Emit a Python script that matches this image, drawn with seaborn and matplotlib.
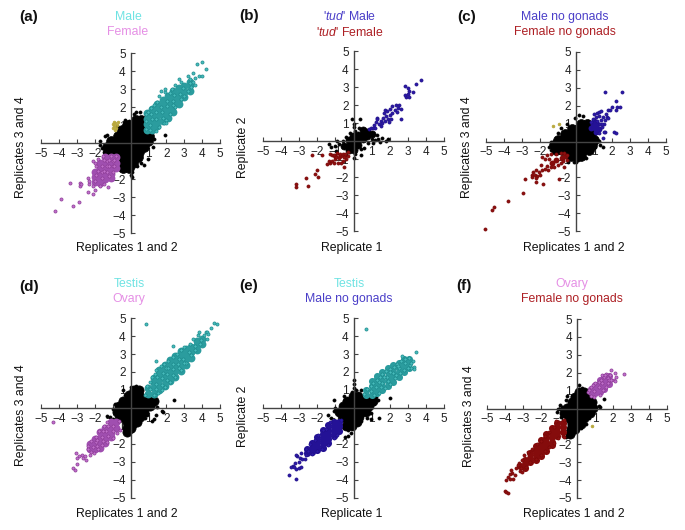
import matplotlib
matplotlib.use('Agg')
import seaborn as sns
import matplotlib.pyplot as plt

# points: *_core fills the solid part of a cloud, *_pts are single dots
# *_cols are the same as *_core, written column by column as (x, [y, y, ...])
a_black_core = [(0.3,1.3),(0.6,1.3),(-0.2,1.0),(0.1,1.0),(0.4,1.0),(0.7,1.0),(-0.5,0.7),(-0.2,0.7),(0.1,0.7),(0.4,0.7),(0.7,0.7),(0.95,0.7),
                (-0.7,0.4),(-0.4,0.4),(-0.1,0.4),(0.2,0.4),(0.5,0.4),(0.8,0.4),(1.05,0.4),(-1.1,0.1),(-0.8,0.1),(-0.5,0.1),(-0.2,0.1),(0.1,0.1),(0.4,0.1),(0.7,0.1),(1.0,0.1),
                (-1.3,-0.2),(-1.0,-0.2),(-0.7,-0.2),(-0.4,-0.2),(-0.1,-0.2),(0.2,-0.2),(0.5,-0.2),(0.75,-0.2),(-1.25,-0.5),(-0.95,-0.5),(-0.65,-0.5),(-0.35,-0.5),(-0.05,-0.5),(0.25,-0.5),(0.5,-0.5),
                (-0.4,-0.8),(-0.1,-0.8),(0.2,-0.8),(0.4,-0.8),(-0.4,-1.1),(-0.1,-1.1),(0.15,-1.1),(-0.4,-1.4),(-0.1,-1.4)]
a_black_pts = [(-1.4,0.4),(-1.7,0.1),(-1.3,0.45),(-0.75,0.95),(-0.3,1.3),(-0.1,1.2),(0.3,1.75),(0.55,1.75),(0.2,1.6),(1.0,-0.9),(1.95,0.45),(1.25,-0.2),(0.75,-1.2),(0.1,-1.6),(0.1,-1.9),(0.05,-1.75),
               (1.3,0.2),(-1.6,-0.3),(-1.7,-0.1),(-1.2,0.2),(-0.6,0.8),(0.5,-0.9),(0.6,-1.1),(0.35,-1.3),(-0.9,-0.6),(-1.5,-0.5)]
a_pos_cols = [(0.9,[0.75,1.05,1.35,1.65]),(1.2,[0.7,1.0,1.3,1.6,1.9]),(1.5,[0.95,1.25,1.55,1.85,2.15]),(1.8,[1.2,1.5,1.8,2.1,2.4]),(2.1,[1.4,1.7,2.0,2.3,2.6]),(2.4,[1.75,2.05,2.35,2.65,2.9]),(2.7,[2.15,2.45,2.75,3.05]),(3.0,[2.55,2.85,3.15]),(3.3,[2.9,3.2,3.4])]
a_pos_pts = [(0.85,0.8),(0.85,1.2),(0.85,1.6),(1.0,1.75),(1.15,1.95),(1.3,2.1),(1.5,2.3),(1.6,2.6),(1.7,2.9),(1.95,2.85),(1.9,3.0),(3.3,3.35),(3.4,3.1),(3.5,3.4),(3.6,3.6),(3.5,3.9),(3.2,3.7),(3.3,3.55),
             (2.7,3.55),(2.8,3.4),(2.5,3.2),(2.3,3.0),(2.2,2.8),(3.7,4.4),(4.0,4.5),(4.2,4.1),(3.8,3.7),(4.0,3.7),(3.6,3.2),(2.0,1.3),(2.2,1.6),(1.85,1.1),(1.6,0.9),(1.4,0.65),(2.5,2.0),(2.8,2.45),(3.0,2.6),(3.2,2.9),(2.0,1.1),
             (1.1,1.0),(1.2,1.35),(1.45,1.35),(1.45,1.7),(1.75,1.7),(1.7,2.0),(2.05,2.05),(2.05,2.35),(2.35,2.35),(2.45,2.65),(2.75,2.7),(1.1,0.75),(1.15,1.6),(1.8,1.4),(2.35,2.1),(2.95,3.05)]
a_neg_cols = [(-0.8,[-0.8,-1.1,-1.4]),(-1.1,[-0.8,-1.1,-1.4,-1.7,-1.95]),(-1.4,[-0.8,-1.1,-1.4,-1.7,-2.0]),(-1.7,[-1.1,-1.4,-1.7,-2.0,-2.2]),(-2.0,[-1.6,-1.9,-2.15])]
a_neg_pts = [(-3.4,-2.2),(-2.8,-2.2),(-2.8,-2.4),(-2.75,-2.3),(-4.2,-3.8),(-3.9,-3.1),(-3.2,-3.5),(-2.85,-3.3),(-2.35,-2.7),(-2.1,-2.85),(-2.0,-2.6),(-2.3,-2.3),(-2.1,-2.4),(-1.7,-2.4),(-1.5,-2.3),(-1.25,-2.45),(-2.0,-2.1),(-2.4,-1.95),(-2.3,-2.1),
             (-1.95,-1.3),(-2.0,-1.1),(-1.8,-0.9),(-2.1,-1.0),(-1.0,-1.0),(-1.3,-1.0),(-1.0,-1.3),(-1.3,-1.3),(-1.6,-1.3),(-0.8,-0.7),(-1.1,-0.7),(-1.55,-0.7),(-1.3,-1.6),(-1.6,-1.6),(-1.0,-1.6),(-0.9,-0.95),(-1.2,-0.95),(-1.5,-0.95),(-0.9,-1.25),(-1.2,-1.25),(-1.5,-1.55),(-1.8,-1.55),(-1.2,-1.85),(-1.6,-1.95),(-1.9,-1.8)]
a_other = [(-0.9,0.95),(-0.85,1.1),(-0.95,1.05),(-0.8,0.85),(-0.75,1.0),(-0.7,1.15),(-0.95,0.85),(-0.85,0.75),(-0.9,1.15)]

b_black_core = [(-0.5,-0.3),(-0.25,-0.25),(-0.25,-0.5),(0,-0.5),(0,-0.2),(0,0.05),(0.25,-0.2),(0.25,0.1),(0.25,0.35),(0.5,0.1),(0.5,0.35),(0.75,0.3),(0.75,0.5),(0.5,0.6),(-0.05,0.3),(-0.25,0.05),(1.0,0.4)]
b_black_pts = [(-0.1,1.2),(0.35,1.2),(0,0.95),(0.05,0.8),(-1.35,-0.15),(-1.25,-0.35),(-1.0,-0.25),(-0.95,-0.55),(-0.8,-0.15),(-0.6,0.0),(-0.4,0.25),(-0.2,0.45),(0.3,0.7),(0.1,0.55),(1.0,0.1),(1.2,0.05),(1.35,0.1),(1.45,-0.05),
               (1.9,0.1),(1.8,0.0),(1.1,-0.1),(0.8,-0.1),(0.4,-0.45),(0.1,-0.7),(0,-0.95),(0.4,-0.8),(-0.4,-0.75),(0.6,-0.4),(1.6,0.15),(1.3,0.35),(-0.9,0.0)]
b_pos_core = []
b_pos_pts = [(0.85,0.65),(0.95,0.75),(1.05,0.7),(1.15,0.9),(1.2,0.75),(1.25,1.05),(1.3,1.3),(1.3,1.2),(1.4,0.95),(1.5,0.85),(1.5,1.1),(1.6,1.0),(1.65,1.3),(1.75,1.1),(1.8,1.4),(1.7,1.55),(1.75,1.75),(1.85,1.65),(1.9,1.25),(2.0,1.45),(2.05,1.2),
             (2.1,1.55),(2.0,1.8),(2.15,1.95),(2.3,1.75),(2.35,2.0),(2.5,2.0),(2.45,1.85),(2.4,1.6),(2.65,1.25),(2.6,1.8),(1.95,1.05),(2.9,2.45),(2.85,2.55),(3.0,2.6),(3.05,2.45),(3.05,2.8),(2.85,3.05),(3.0,2.95),(3.3,2.75),(3.45,3.15),(3.75,3.4)]
b_neg_core = [(-1.0,-0.85),(-0.75,-0.85),(-0.55,-0.85)]
b_neg_pts = [(-1.3,-0.7),(-1.2,-0.8),(-1.05,-0.75),(-0.9,-0.65),(-0.75,-0.7),(-0.6,-0.7),(-0.45,-0.7),(-1.3,-1.2),(-1.45,-1.25),(-1.35,-1.1),(-1.2,-1.1),(-1.1,-1.2),(-1.0,-1.0),(-0.95,-0.9),(-0.8,-0.95),(-0.7,-1.2),(-0.6,-1.1),(-0.5,-0.9),(-0.85,-1.2),(-0.55,-1.45),(-0.4,-1.0),
             (-2.3,-0.8),(-1.75,-0.8),(-2.0,-1.6),(-2.1,-1.85),(-1.95,-2.0),(-2.65,-2.05),(-3.2,-2.4),(-3.15,-2.55),(-2.5,-2.5),(-0.3,-0.6),(-0.3,-0.85)]

c_black_core = [(0.3,1.0),(0.6,1.0),(-0.2,0.7),(0.1,0.7),(0.4,0.7),(0.7,0.7),(-0.6,0.4),(-0.3,0.4),(0,0.4),(0.3,0.4),(0.6,0.4),(0.85,0.4),(-1.0,0.1),(-0.7,0.1),(-0.4,0.1),(-0.1,0.1),(0.2,0.1),(0.5,0.1),(0.8,0.1),(1.0,0.1),
                (-1.2,-0.2),(-0.9,-0.2),(-0.6,-0.2),(-0.3,-0.2),(0,-0.2),(0.3,-0.2),(0.6,-0.2),(0.9,-0.2),(-1.1,-0.5),(-0.8,-0.5),(-0.5,-0.5),(-0.2,-0.5),(0.1,-0.5),(0.4,-0.5),(0.7,-0.5),(-0.3,-0.8),(0,-0.8),(0.3,-0.8)]
c_black_pts = [(0.15,1.5),(0.4,1.4),(-0.05,1.3),(-0.5,1.0),(-0.85,0.75),(-1.0,0.5),(-1.4,0.0),(-1.5,-0.3),(-1.4,-0.5),(-0.1,-1.15),(0.1,-1.05),(0.9,-0.45),(1.35,-0.2),(1.5,-0.3),(1.05,-0.3),(1.25,0.05),(0.55,-0.9),(-0.45,-1.15),(0,-1.15),(0.8,0.9),(0.65,1.15)]
c_pos_core = [(0.85,0.75),(1.05,0.75),(1.1,0.55),(1.25,0.7),(0.95,0.95),(1.15,0.95),(1.0,1.15)]
c_pos_pts = [(1.0,1.55),(1.15,1.6),(1.3,1.65),(1.4,1.7),(1.3,1.4),(1.5,1.35),(1.6,1.2),(1.7,1.35),(1.65,1.55),(1.75,1.75),(1.8,1.3),(1.4,1.2),(1.55,1.0),(1.35,0.95),(1.45,0.8),(1.3,0.45),(1.6,0.55),(1.5,0.2),(1.55,0.55),(2.1,0.55),(2.2,0.45),
             (1.9,1.75),(2.0,1.9),(2.2,1.75),(2.3,1.95),(2.45,1.9),(2.2,2.25),(1.6,2.75),(2.55,2.75),(1.45,1.0),(0.95,1.25),(1.1,1.35),(0.85,1.1),(1.15,1.15)]
c_neg_core = [(-0.8,-0.9),(-1.1,-1.05),(-1.35,-1.2),(-0.6,-0.8)]
c_neg_pts = [(-1.9,-0.85),(-1.6,-0.75),(-1.4,-0.7),(-1.1,-0.7),(-0.85,-0.65),(-0.65,-0.65),(-0.5,-0.75),(-1.95,-1.3),(-1.7,-1.0),(-1.5,-1.0),(-1.6,-1.35),(-1.4,-1.45),(-1.2,-1.4),(-1.0,-1.3),(-0.85,-1.2),(-0.7,-1.1),(-0.5,-1.05),(-0.65,-1.45),(-1.55,-1.6),(-1.9,-1.6),
             (-2.05,-1.7),(-2.2,-1.6),(-2.4,-1.7),(-2.45,-1.85),(-2.3,-1.85),(-2.15,-1.9),(-2.0,-1.85),(-1.7,-1.55),(-2.2,-2.05),(-2.45,-2.0),(-2.85,-2.1),(-2.2,-2.25),(-1.85,-2.35),(-0.95,-2.1),(-2.95,-2.85),(-3.8,-3.35),(-4.55,-3.65),(-4.65,-3.8),(-5.05,-4.9)]
c_other = [(-1.3,0.85),(-0.95,0.95)]

d_black_core = [(0.2,1.0),(0.5,1.0),(-0.1,0.7),(0.2,0.7),(0.5,0.7),(-0.4,0.4),(-0.1,0.4),(0.2,0.4),(0.5,0.4),(0.8,0.4),(1.05,0.4),(1.3,0.4),(-0.65,0.1),(-0.35,0.1),(-0.05,0.1),(0.25,0.1),(0.55,0.1),(0.85,0.1),(1.1,0.1),
                (-0.75,-0.2),(-0.45,-0.2),(-0.15,-0.2),(0.15,-0.2),(0.45,-0.2),(0.75,-0.2),(-0.6,-0.5),(-0.3,-0.5),(0,-0.5),(0.3,-0.5),(0.55,-0.5),(-0.2,-0.8),(0.1,-0.8),(0.35,-0.8),(-0.2,-1.1),(0.05,-1.1),(-0.2,-1.35)]
d_black_pts = [(-0.85,0.2),(-1.0,-0.05),(-1.3,-0.45),(-1.15,-0.5),(-0.95,-0.6),(-0.4,1.0),(0.05,1.15),(0.3,1.2),(0.55,1.1),(-0.3,0.75),(1.3,0.2),(1.5,0.05),(1.45,-0.4),(1.75,-0.15),(1.3,-0.6),(1.2,-0.7),(0.8,-0.55),(0.5,-0.85),(0.25,-1.0),(0.1,-1.25),(2.45,0.45),(1.8,-0.2),(1.15,0.0),(0.9,-0.4)]
d_pos_cols = [(1.0,[0.8,1.1]),(1.3,[0.8,1.1,1.4,1.65]),(1.6,[1.0,1.3,1.6,1.9,2.1]),(1.9,[1.25,1.55,1.85,2.15,2.4]),(2.2,[1.5,1.8,2.1,2.4,2.65]),(2.5,[1.75,2.05,2.35,2.65,2.9]),(2.8,[2.05,2.35,2.65,2.95,3.15]),(3.1,[2.4,2.7,3.0,3.3]),(3.4,[2.8,3.1,3.4]),(3.7,[3.2,3.5,3.75]),(4.0,[3.55,3.85])]
d_pos_pts = [(0.8,0.75),(0.9,1.25),(1.1,1.45),(1.2,1.75),(1.35,1.9),(1.45,2.1),(1.7,2.35),(1.85,2.45),(2.1,2.6),(2.35,2.85),(2.6,3.0),(2.8,3.2),(3.0,3.4),(3.3,3.55),(3.5,3.85),(3.75,4.05),(3.85,4.25),(4.1,4.05),(4.2,4.2),(4.3,4.25),(4.35,4.1),(4.25,3.85),(4.5,4.45),(4.65,4.7),(4.85,4.65),
             (3.9,3.55),(3.6,3.25),(3.4,2.95),(3.1,2.5),(2.8,2.1),(2.5,1.75),(2.2,1.45),(1.9,1.15),(1.55,0.85),(1.35,0.7),(0.85,4.65),(2.4,3.45),(1.4,2.6),(2.0,2.2),(1.3,0.75),(1.75,1.0),
             (1.1,1.05),(1.45,1.35),(1.75,1.65),(2.05,1.9),(2.35,2.15),(2.65,2.45),(2.95,2.75),(3.25,3.1),(3.6,3.45),(3.95,3.8),(1.5,1.7),(1.8,1.95),(2.1,2.2),(2.4,2.45),(2.7,2.75),(1.4,1.05),(1.75,1.3),(2.05,1.55),(2.4,1.85),(2.7,2.2),(3.0,2.5)]
d_neg_cols = [(-0.8,[-0.8,-1.1]),(-1.1,[-0.8,-1.1,-1.4,-1.6]),(-1.4,[-1.1,-1.4,-1.7,-1.95]),(-1.7,[-1.35,-1.65,-1.95,-2.2]),(-2.0,[-1.7,-2.0,-2.3]),(-2.25,[-2.0,-2.3])]
d_neg_pts = [(-0.65,-0.7),(-1.3,-0.75),(-1.5,-1.0),(-1.75,-1.3),(-1.95,-1.6),(-2.2,-1.85),(-2.35,-2.1),(-2.4,-2.3),(-2.2,-2.45),(-2.05,-2.5),(-1.8,-2.3),(-1.6,-2.05),(-1.3,-1.9),(-1.0,-1.65),(-0.75,-1.4),(-0.6,-1.2),(-2.7,-2.6),(-2.65,-2.8),(-2.85,-2.65),(-3.05,-2.5),(-3.0,-2.75),(-2.55,-2.65),(-2.5,-2.9),(-3.0,-3.1),(-3.2,-3.35),(-3.1,-3.45),(-4.35,-0.75),(-2.25,-2.6),
             (-0.95,-1.0),(-1.25,-1.0),(-0.95,-1.3),(-1.35,-1.3),(-1.6,-1.6),(-1.9,-1.9),(-1.25,-1.55),(-1.55,-1.85),(-1.85,-2.1),(-1.55,-1.3),(-1.85,-1.8),(-2.1,-2.15)]

e_black_core = [(-0.05,0.65),(0.25,0.65),(-0.35,0.4),(-0.05,0.4),(0.25,0.4),(0.55,0.4),(0.85,0.4),(1.1,0.4),(-0.6,0.1),(-0.3,0.1),(0,0.1),(0.3,0.1),(0.6,0.1),(0.85,0.1),(-0.8,-0.2),(-0.5,-0.2),(-0.2,-0.2),(0.1,-0.2),(0.4,-0.2),(0.7,-0.2),(-0.6,-0.5),(-0.3,-0.5),(0,-0.5),(0.3,-0.5),(-0.3,-0.8),(0,-0.8),(0.2,-0.8),(-0.4,-1.0),(-0.1,-1.0)]
e_black_pts = [(-1.0,0),(-1.1,-0.15),(-1.05,0.45),(-0.55,0.65),(-0.5,0.4),(0,1.55),(0.05,1.35),(0.0,1.1),(-0.1,0.9),(0.15,1.0),(0.4,1.0),(1.25,0.6),(1.35,0.45),(2.0,0.55),(1.15,0.2),(0.95,-0.3),(0.85,-0.1),(0.95,-0.6),(1.4,-0.55),(0.75,-0.55),(0.4,-0.7),(0.1,-0.95),(-0.15,-1.4),(-0.45,-1.6),(-0.3,-1.55),(-0.3,-1.2),(-1.4,-0.4),(-1.25,-0.55),(-1.0,-0.7)]
e_pos_cols = [(0.7,[0.75,1.0]),(1.0,[0.75,1.0,1.25,1.5]),(1.3,[0.85,1.1,1.35,1.6,1.8]),(1.6,[1.0,1.25,1.5,1.75,2.0]),(1.9,[1.25,1.5,1.75,2.0,2.2]),(2.2,[1.45,1.7,1.95,2.2,2.4]),(2.5,[1.75,2.0,2.25,2.5]),(2.8,[2.0,2.25,2.5,2.7]),(3.05,[2.25,2.5,2.7])]
e_pos_pts = [(0.6,0.8),(0.75,1.05),(0.95,1.25),(1.1,1.4),(1.3,1.55),(1.45,1.75),(1.6,1.9),(1.8,2.05),(2.0,2.15),(2.25,2.3),(2.4,2.45),(2.6,2.6),(2.7,2.9),(2.85,2.75),(3.05,2.8),(3.45,3.1),(3.3,2.6),(3.35,2.3),(3.35,2.15),(3.15,2.2),(3.0,2.2),(2.8,2.1),(2.55,1.95),(2.3,1.65),(2.0,1.35),(1.75,1.1),(1.4,0.85),(1.15,0.7),(0.7,4.4),(3.1,2.4),(3.2,2.5),
             (0.95,0.95),(1.25,1.15),(1.55,1.4),(1.85,1.7),(2.2,1.95),(2.5,2.2),(2.85,2.5),(1.4,1.45),(1.7,1.75),(2.0,2.0),(2.45,2.35),(1.5,1.15),(1.9,1.5),(2.35,1.85)]
e_neg_cols = [(-0.8,[-0.75,-1.0,-1.25]),(-1.1,[-0.8,-1.05,-1.3,-1.55]),(-1.4,[-0.95,-1.2,-1.45,-1.7,-1.95]),(-1.7,[-1.2,-1.45,-1.7,-1.95,-2.2]),(-2.0,[-1.6,-1.85,-2.1,-2.35]),(-2.3,[-1.95,-2.2,-2.45]),(-2.55,[-2.25,-2.5])]
e_neg_pts = [(-0.7,-0.65),(-1.3,-0.8),(-1.5,-1.15),(-1.7,-1.2),(-1.95,-1.5),(-2.15,-1.75),(-2.4,-2.0),(-2.6,-2.25),(-2.5,-2.4),(-2.3,-2.55),(-2.0,-2.4),(-1.75,-2.25),(-1.4,-2.05),(-1.1,-1.65),(-0.9,-1.5),(-2.65,-2.6),(-2.9,-2.5),(-3.1,-2.65),(-3.2,-2.6),(-2.95,-2.75),(-2.85,-2.85),(-3.0,-3.0),(-2.7,-2.85),(-3.25,-3.05),(-3.35,-3.2),(-3.2,-3.4),(-3.0,-3.35),(-2.9,-3.3),(-3.45,-3.3),(-3.55,-3.7),(-3.2,-3.95),(-3.3,-3.3)]

f_black_core = [(0.1,0.9),(0.4,0.9),(-0.1,0.65),(0.2,0.65),(0.5,0.65),(-0.3,0.35),(0,0.35),(0.3,0.35),(0.6,0.35),(0.85,0.35),(-0.55,0.05),(-0.25,0.05),(0.05,0.05),(0.35,0.05),(0.65,0.05),(0.9,0.05),(-0.75,-0.25),(-0.45,-0.25),(-0.15,-0.25),(0.15,-0.25),(0.45,-0.25),(0.7,-0.25),
                (-0.45,-0.55),(-0.15,-0.55),(0.15,-0.55),(0.4,-0.55),(-0.3,-0.85),(0,-0.85),(0.2,-0.85),(-0.35,-1.15),(-0.1,-1.15),(-0.4,-1.4)]
f_black_pts = [(-0.95,-0.05),(-1.1,-0.2),(-0.95,0.2),(-1.05,0.0),(-0.6,0.45),(0.1,1.3),(0.3,1.15),(0.4,1.0),(1.5,0.55),(1.2,0.15),(1.3,0.1),(0.95,-0.05),(0.9,-0.25),(0.65,-0.55),(0.5,-0.85),(0.2,-1.1),(-0.45,-1.55),(-0.6,-1.6),(-0.2,-1.45),(-0.9,-0.45),(-0.85,0.1),(-0.55,0.7),(-0.3,0.7)]
f_pos_cols = [(0.75,[0.9,1.1]),(1.0,[0.85,1.1,1.3]),(1.25,[0.9,1.15,1.4,1.6]),(1.5,[1.1,1.35,1.6,1.75]),(1.75,[1.35,1.6,1.8])]
f_pos_pts = [(0.6,0.9),(0.65,1.05),(0.75,1.2),(0.9,1.3),(1.0,1.45),(1.2,1.5),(1.35,1.6),(1.5,1.75),(1.6,1.9),(1.7,1.7),(1.85,1.85),(1.9,2.15),(2.1,2.0),(1.8,1.6),(2.05,1.6),(2.1,1.55),(1.9,1.6),(1.7,1.45),(1.6,1.2),(1.45,1.05),(1.25,0.75),(0.95,0.65),(0.8,0.7),(2.6,1.95),(2.15,1.75),(1.4,1.85),(1.55,1.85),(0.95,1.0),(1.2,1.2),(1.4,1.4)]
f_neg_cols = [(-0.8,[-0.8,-1.05,-1.3]),(-1.1,[-0.8,-1.05,-1.3,-1.55]),(-1.4,[-1.1,-1.35,-1.6,-1.85,-2.05]),(-1.7,[-1.4,-1.65,-1.9,-2.15,-2.35]),(-2.0,[-1.75,-2.0,-2.25,-2.5,-2.65]),(-2.3,[-2.1,-2.35,-2.6,-2.85]),(-2.6,[-2.5,-2.75,-3.0]),(-2.9,[-2.85,-3.1,-3.3]),(-3.15,[-3.2])]
f_neg_pts = [(-0.7,-0.65),(-1.15,-0.7),(-1.3,-1.05),(-1.55,-1.3),(-1.8,-1.55),(-2.0,-1.8),(-2.25,-2.0),(-2.5,-2.25),(-2.7,-2.45),(-2.95,-2.6),(-3.05,-2.9),(-3.2,-3.05),(-3.3,-3.15),(-3.1,-3.3),(-2.85,-3.25),(-3.4,-3.3),(-3.6,-3.6),(-3.75,-3.65),(-3.85,-3.85),(-3.55,-3.95),(-3.75,-3.95),(-3.95,-4.0),(-3.45,-3.7),(-3.65,-3.45),(-3.15,-3.5),(-2.6,-3.0),(-2.3,-2.8),(-2.0,-2.6),(-1.8,-2.35),(-1.55,-2.15),(-1.3,-1.9),(-1.05,-1.65),(-0.8,-1.55),(-0.7,-1.6),(-4.0,-4.6),(-3.95,-4.65),(-3.85,-4.7),(-3.05,-3.55)]
f_other = [(0.85,-0.95)]

tick_values = [-5, -4, -3, -2, -1, 1, 2, 3, 4, 5]
panel_tags = ['(a)', '(b)', '(c)', '(d)', '(e)', '(f)']
x_names = ['Replicates 1 and 2', 'Replicate 1', 'Replicates 1 and 2', 'Replicates 1 and 2', 'Replicate 1', 'Replicates 1 and 2']
y_names = ['Replicates 3 and 4', 'Replicate 2', 'Replicates 3 and 4', 'Replicates 3 and 4', 'Replicate 2', 'Replicates 3 and 4']
top_names = ['Male', r"'$\mathit{tud}$' Male", 'Male no gonads', 'Testis', 'Testis', 'Ovary']
bottom_names = ['Female', r"'$\mathit{tud}$' Female", 'Female no gonads', 'Ovary', 'Male no gonads', 'Female no gonads']

# face, edge, title colour, solid colour under the dots
TEAL = ('#48bcbc', '#1c8a8c', '#6fe3e3', '#2b9c9e')
PINK = ('#c070cc', '#8c3a94', '#e58fe5', '#a04fb0')
BLUE = ('#2c1aa8', '#201088', '#4a3ec8', '#241296')
RED = ('#8e1010', '#7a0808', '#ad1f24', '#850c0c')
OLIVE = '#b8a83c'


def cols(columns):
    return [(x, y) for x, ys in columns for y in ys]


W, H = 685, 530
# left, right, top, bottom of the axes in pixels
boxes = [(41, 220, 53, 233), (263, 444, 51, 231), (486, 666, 52, 231), (41, 220, 318, 498), (263, 444, 318, 498), (487, 667, 319, 498)]
# tag x, tag y, title x, title y1, title y2, ylabel x, ylabel y, xlabel x, xlabel y
spots = [(29, 17, 128, 17, 32, 21, 147, 127, 248), (249, 16, 350, 17, 32, 243, 147, 352, 248), (467, 17, 565, 17, 32, 467, 147, 574, 248),
         (29, 287, 129, 284, 299, 21, 415, 127, 514), (249, 286, 349, 284, 299, 243, 416, 352, 514), (464, 286, 572, 284, 299, 469, 416, 574, 514)]
series = [
    (a_black_core, a_black_pts, cols(a_pos_cols), a_pos_pts, TEAL, cols(a_neg_cols), a_neg_pts, PINK, a_other),
    (b_black_core, b_black_pts, b_pos_core, b_pos_pts, BLUE, b_neg_core, b_neg_pts, RED, []),
    (c_black_core, c_black_pts, c_pos_core, c_pos_pts, BLUE, c_neg_core, c_neg_pts, RED, c_other),
    (d_black_core, d_black_pts, cols(d_pos_cols), d_pos_pts, TEAL, cols(d_neg_cols), d_neg_pts, PINK, []),
    (e_black_core, e_black_pts, cols(e_pos_cols), e_pos_pts, TEAL, cols(e_neg_cols), e_neg_pts, BLUE, []),
    (f_black_core, f_black_pts, cols(f_pos_cols), f_pos_pts, PINK, cols(f_neg_cols), f_neg_pts, RED, f_other),
]
black_sizes = [50, 26, 50, 44, 42, 44]
cloud_sizes = [32, 12, 18, 32, 26, 26]

sns.set_theme(style='white')
plt.rcParams['font.family'] = ['Liberation Sans', 'DejaVu Sans']
plt.rcParams['mathtext.fontset'] = 'custom'
plt.rcParams['mathtext.it'] = 'Liberation Sans:italic'
plt.rcParams['mathtext.rm'] = 'Liberation Sans'

fig = plt.figure(figsize=(W / 100, H / 100), dpi=100)


def dots(ax, pts, color, edge, size, order, width=0.5):
    if not pts:
        return
    sns.scatterplot(x=[p[0] for p in pts], y=[p[1] for p in pts], ax=ax, color=color, edgecolor=edge,
                    s=size, linewidth=width, legend=False, zorder=order, clip_on=False)


def put(x, y, s, **kw):
    fig.text(x / W, 1 - y / H, s, ha='center', va='center', **kw)


for i, box in enumerate(boxes):
    left, right, top, bottom = box
    ax = fig.add_axes([left / W, 1 - bottom / H, (right - left) / W, (bottom - top) / H])
    ax.patch.set_alpha(0)
    black_core, black_pts, pos_core, pos_pts, pos_col, neg_core, neg_pts, neg_col, other = series[i]

    # solid patches first, small dots on top give the speckle
    dots(ax, black_core, 'black', 'black', black_sizes[i], 2)
    dots(ax, black_pts, 'black', 'black', 5, 2)
    dots(ax, pos_core, pos_col[3], pos_col[3], cloud_sizes[i], 3, 0)
    dots(ax, neg_core, neg_col[3], neg_col[3], cloud_sizes[i], 3, 0)
    dots(ax, pos_pts, pos_col[0], pos_col[1], 5, 4)
    dots(ax, neg_pts, neg_col[0], neg_col[1], 5, 4)
    dots(ax, other, OLIVE, OLIVE, 4, 4)

    ax.set_xlim(-5, 5)
    ax.set_ylim(-5, 5)
    for side in ['top', 'right']:
        ax.spines[side].set_visible(False)
    for side in ['left', 'bottom']:
        ax.spines[side].set_position('zero')
        ax.spines[side].set_color('#444444')
        ax.spines[side].set_linewidth(1.0)
    ax.set_axisbelow(True)
    ax.set_xticks(tick_values)
    ax.set_yticks(tick_values)
    ax.set_xticklabels([str(t).replace('-', '\u2212') for t in tick_values])
    ax.set_yticklabels([str(t).replace('-', '\u2212') for t in tick_values])
    ax.tick_params(axis='both', direction='in', length=3, width=0.8, color='#444444', labelsize=8.5, labelcolor='#222222', pad=3.5)
    ax.tick_params(axis='x', bottom=True)
    ax.tick_params(axis='y', left=True)
    ax.set_xlabel('')
    ax.set_ylabel('')

    tx, ty, cx, y1, y2, ylx, yly, xlx, xly = spots[i]
    put(tx, ty, panel_tags[i], fontsize=11, fontweight='bold', color='#111111')
    put(cx, y1, top_names[i], fontsize=8.8, color=pos_col[2])
    put(cx, y2, bottom_names[i], fontsize=8.8, color=neg_col[2])
    put(ylx, yly, y_names[i], fontsize=8.8, rotation=90, color='#111111')
    put(xlx, xly, x_names[i], fontsize=8.8, color='#111111')

fig.savefig('out.png', dpi=100)
